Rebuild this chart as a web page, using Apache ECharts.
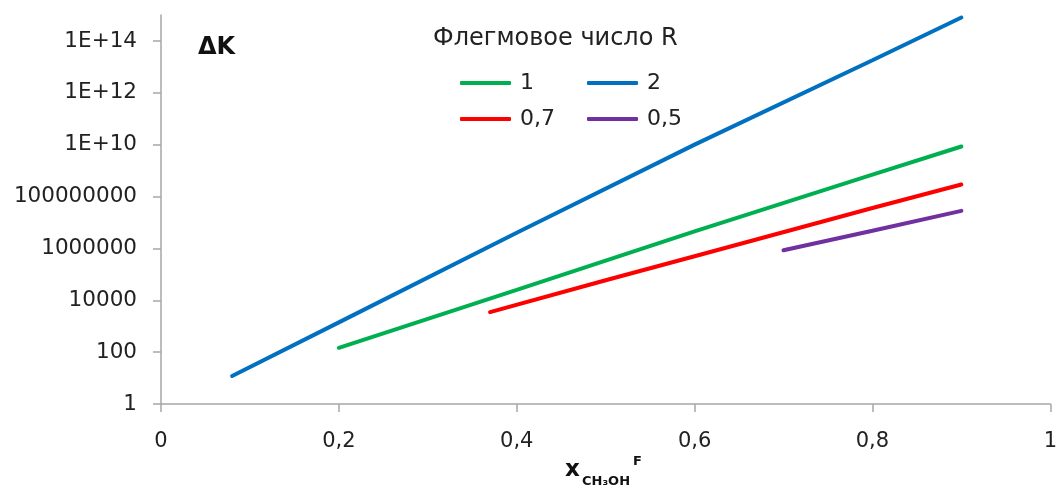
<!DOCTYPE html>
<html><head><meta charset="utf-8">
<script src="https://cdn.jsdelivr.net/npm/echarts@6/dist/echarts.min.js"></script>
<style>html,body{margin:0;padding:0;background:#fff}#c{width:1060px;height:496px}</style>
</head><body><div id="c"></div>
<script>
const seriesNames = ['1', '2', '0,7', '0,5'];
const xR1 = [0.2, 0.4, 0.6, 0.8, 0.9];
const yR1 = [147, 2.5e4, 4.5e6, 7.0e8, 8.5e9];
const xR2 = [0.08, 0.2, 0.4, 0.6, 0.8, 0.9];
const yR2 = [12, 1400, 4.0e6, 1.0e10, 1.8e13, 8.0e14];
const xR07 = [0.37, 0.5, 0.6, 0.8, 0.9];
const yR07 = [3500, 5.9e4, 5.0e5, 3.6e7, 2.9e8];
const xR05 = [0.7, 0.8, 0.9];
const yR05 = [8.5e5, 4.8e6, 2.8e7];
const colors = ['#00b050', '#0070c0', '#ff0000', '#7030a0'];
const xs = [xR1, xR2, xR07, xR05];
const ys = [yR1, yR2, yR07, yR05];

const FONT = 'DejaVu Sans';
const chart = echarts.init(document.getElementById('c'), null, {renderer: 'canvas'});
const legendPos = [[460, 72], [587, 72], [460, 108], [587, 108]];
chart.setOption({
  animation: false,
  textStyle: {fontFamily: FONT},
  grid: {left: 161, right: 5, top: 15, bottom: 92, containLabel: false},
  xAxis: {
    type: 'value', min: 0, max: 1, interval: 0.2,
    axisLine: {lineStyle: {color: '#a6a6a6', width: 1.5}},
    axisTick: {show: true, inside: false, length: 8, lineStyle: {color: '#a6a6a6', width: 1.5}},
    splitLine: {show: false},
    axisLabel: {margin: 27, fontSize: 21, color: '#222', fontFamily: FONT,
      formatter: v => String(Math.round(v * 10) / 10).replace('.', ',')}
  },
  yAxis: {
    type: 'log', logBase: 10, min: 1, max: 1e15, interval: 2,
    axisLine: {show: true, lineStyle: {color: '#a6a6a6', width: 1.5}},
    axisTick: {show: true, inside: false, length: 8, lineStyle: {color: '#a6a6a6', width: 1.5}},
    splitLine: {show: false},
    minorTick: {show: false},
    axisLabel: {margin: 24, fontSize: 21.5, color: '#222', fontFamily: FONT, showMaxLabel: false,
      formatter: v => {
        const e = Math.round(Math.log10(v));
        return e >= 10 ? '1E+' + e : String(Math.round(v));
      }}
  },
  legend: seriesNames.map((n, i) => ({
    data: [n], left: legendPos[i][0], top: legendPos[i][1], padding: 0,
    icon: 'roundRect', itemWidth: 51, itemHeight: 4, itemGap: 0,
    textStyle: {fontSize: 22, color: '#222', fontFamily: FONT, padding: [0, 0, 0, 4]},
    selectedMode: false
  })),
  graphic: [
    {type: 'text', left: 433, top: 27, style: {text: 'Флегмовое число R', fontSize: 24, fill: '#222', fontFamily: FONT}},
    {type: 'text', left: 198, top: 36, style: {text: 'ΔK', fontSize: 24, fontWeight: 'bold', fill: '#111', fontFamily: FONT}},
    {type: 'text', left: 565, top: 459, style: {text: 'x', fontSize: 23, fontWeight: 'bold', fill: '#111', fontFamily: FONT}},
    {type: 'text', left: 582, top: 475, style: {text: 'CH₃OH', fontSize: 13, fontWeight: 'bold', fill: '#111', fontFamily: FONT}},
    {type: 'text', left: 633, top: 455, style: {text: 'F', fontSize: 13, fontWeight: 'bold', fill: '#111', fontFamily: FONT}}
  ],
  series: seriesNames.map((n, i) => ({
    name: n, type: 'line', showSymbol: false, symbol: 'none', smooth: false,
    data: xs[i].map((x, k) => [x, ys[i][k]]),
    lineStyle: {color: colors[i], width: 4, cap: 'round'},
    itemStyle: {color: colors[i]}
  }))
});
</script></body></html>
